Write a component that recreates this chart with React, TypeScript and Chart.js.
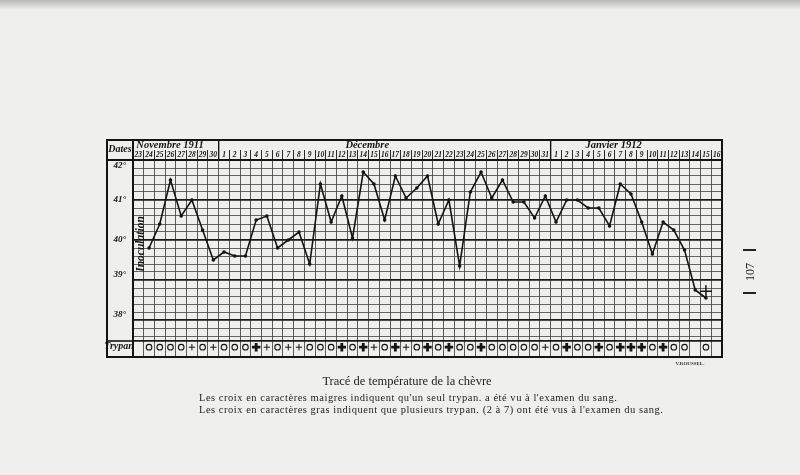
import React, { useEffect, useRef } from "react";
import { Chart, registerables } from "chart.js";

Chart.register(...registerables);

// ---- data ----
const novDays = ["23", "24", "25", "26", "27", "28", "29", "30"];
const decDays = ["1", "2", "3", "4", "5", "6", "7", "8", "9", "10", "11", "12", "13", "14", "15", "16", "17", "18", "19", "20", "21", "22", "23", "24", "25", "26", "27", "28", "29", "30", "31"];
const janDays = ["1", "2", "3", "4", "5", "6", "7", "8", "9", "10", "11", "12", "13", "14", "15", "16"];

const novTemps: (number | null)[] = [null, 39.8, 40.4, 41.5, 40.6, 41.0, 40.25, 39.5];
const decTemps: (number | null)[] = [39.7, 39.6, 39.6, 40.5, 40.6, 39.8, 40.0, 40.2, 39.4, 41.4, 40.45, 41.1, 40.05, 41.7, 41.4, 40.5, 41.6, 41.05, 41.3, 41.6, 40.4, 41.0, 39.35, 41.2, 41.7, 41.05, 41.5, 40.95, 40.95, 40.55, 41.1];
const janTemps: (number | null)[] = [40.45, 41.0, 41.0, 40.8, 40.8, 40.35, 41.4, 41.15, 40.45, 39.65, 40.45, 40.25, 39.75, 38.75, 38.55, null];

// o = circle (none seen), + = thin cross (one trypan), B = bold cross (several)
const novTrypan = ["", "o", "o", "o", "o", "+", "o", "+"];
const decTrypan = ["o", "o", "o", "B", "+", "o", "+", "+", "o", "o", "o", "B", "o", "B", "+", "o", "B", "+", "o", "B", "o", "B", "o", "o", "B", "o", "o", "o", "o", "o", "+"];
const janTrypan = ["o", "B", "o", "o", "B", "o", "B", "B", "B", "o", "B", "o", "o", "", "o", ""];

// death mark (Jan 15)
const deathIndex = 53;
const deathValue = 38.72;

const months = ["Novembre 1911", "Décembre", "Janvier 1912"];
const degreeTicks = [38, 39, 40, 41, 42];

const yMin = 37.075;
const yMax = 42;
const trypanLine = 37.475;
const trypanRow = 37.32;

const dayLabels = [...novDays, ...decDays, ...janDays];
const temps = [...novTemps, ...decTemps, ...janTemps];
const trypanCodes = [...novTrypan, ...decTrypan, ...janTrypan];

const SERIF = '"Liberation Serif", "DejaVu Serif", serif';
const INK = "#141414";

const framePlugin = {
  id: "frame",
  afterDraw(chart: any) {
    const { ctx, chartArea: ca, scales } = chart;
    const x = scales.x;
    const y = scales.y;
    const L = 107;
    const T = 140;
    const R = ca.right;
    const B = ca.bottom;
    ctx.save();
    ctx.strokeStyle = INK;
    ctx.fillStyle = INK;
    const line = (x1: number, y1: number, x2: number, y2: number, w: number) => {
      ctx.lineWidth = w;
      ctx.beginPath();
      ctx.moveTo(x1, y1);
      ctx.lineTo(x2, y2);
      ctx.stroke();
    };
    // outer frame
    ctx.lineWidth = 2;
    ctx.strokeRect(L, T, R - L, B - T);
    // left column separator & header bottom
    line(ca.left, T, ca.left, B, 2);
    line(L, ca.top, R, ca.top, 2);
    // trypan row top across the left column
    const ty = y.getPixelForValue(trypanLine);
    line(L, ty, ca.left, ty, 1.6);
    // month boundaries in header
    const b1 = (x.getPixelForValue(novDays.length - 1) + x.getPixelForValue(novDays.length)) / 2;
    const b2 =
      (x.getPixelForValue(novDays.length + decDays.length - 1) +
        x.getPixelForValue(novDays.length + decDays.length)) / 2;
    line(b1, T, b1, ca.top, 1.4);
    line(b2, T, b2, ca.top, 1.4);

    // month labels
    ctx.font = `italic bold 10.5px ${SERIF}`;
    ctx.textBaseline = "middle";
    ctx.textAlign = "left";
    ctx.fillText(months[0], x.getPixelForValue(0) - 2, 145.5);
    ctx.textAlign = "center";
    ctx.fillText(months[1], x.getPixelForValue(novDays.length + 13) + 4, 145.5);
    ctx.fillText(months[2], x.getPixelForValue(novDays.length + decDays.length + 5) + 4, 145.5);

    // left column labels
    ctx.font = `italic bold 10px ${SERIF}`;
    ctx.fillText("Dates", (L + ca.left) / 2, 149.5);
    ctx.fillText("Trypan", (L + ca.left) / 2 - 1, (ty + B) / 2 - 3);

    // Inoculation (vertical)
    ctx.save();
    ctx.translate(x.getPixelForValue(0) + 2.5, 244);
    ctx.rotate(-Math.PI / 2);
    ctx.font = `italic bold 11.5px ${SERIF}`;
    ctx.textAlign = "center";
    ctx.textBaseline = "middle";
    ctx.fillText("Inoculation", 0, 0);
    ctx.restore();

    // engraver signature
    ctx.font = `bold 5px ${SERIF}`;
    ctx.textAlign = "center";
    ctx.fillStyle = "#333";
    ctx.fillText("V.ROUSSEL.", 690, 364);
    ctx.restore();
  },
};

export default function App() {
  const canvasRef = useRef<HTMLCanvasElement | null>(null);

  useEffect(() => {
    if (!canvasRef.current) return;
    const trypanData = trypanCodes.map((c) => (c ? trypanRow : null));
    const deathData = dayLabels.map((_, i) => (i === deathIndex ? deathValue : null));

    const chart = new Chart(canvasRef.current, {
      type: "line",
      data: {
        labels: dayLabels,
        datasets: [
          {
            label: "Température",
            data: temps,
            borderColor: INK,
            backgroundColor: INK,
            borderWidth: 1.6,
            pointRadius: 1.8,
            pointBackgroundColor: INK,
            pointBorderWidth: 0,
            tension: 0,
            spanGaps: false,
          },
          {
            label: "Trypan",
            data: trypanData,
            showLine: false,
            borderColor: INK,
            backgroundColor: "rgba(0,0,0,0)",
            pointStyle: trypanCodes.map((c) => (c === "o" ? "circle" : "cross")) as any,
            pointRadius: trypanCodes.map((c) => (c === "o" ? 2.8 : c === "B" ? 4.2 : 3.2)),
            pointBorderWidth: trypanCodes.map((c) => (c === "o" ? 1.1 : c === "B" ? 2.8 : 1)),
            pointBorderColor: INK,
            pointBackgroundColor: "rgba(0,0,0,0)",
          },
          {
            label: "Mort",
            data: deathData,
            showLine: false,
            pointStyle: "cross",
            pointRadius: 6,
            pointBorderWidth: 1.5,
            pointBorderColor: INK,
          },
        ],
      },
      options: {
        responsive: false,
        animation: false,
        layout: { padding: { left: 107, top: 140, right: 78, bottom: 118 } },
        plugins: {
          legend: { display: false },
          tooltip: { enabled: false },
          title: { display: false },
        },
        scales: {
          x: {
            type: "category",
            position: "top",
            offset: true,
            afterFit: (s: any) => {
              s.height = 20;
            },
            grid: {
              offset: true,
              color: "#4a4a4a",
              lineWidth: 0.9,
              drawTicks: true,
              tickLength: 10,
              tickColor: "#2a2a2a",
              tickWidth: 1,
            },
            border: { display: true, color: INK, width: 2 },
            ticks: {
              autoSkip: false,
              maxRotation: 0,
              minRotation: 0,
              padding: -10,
              color: INK,
              font: { family: SERIF, size: 7.5, style: "italic", weight: "bold" },
            },
          },
          y: {
            type: "linear",
            min: yMin,
            max: yMax,
            afterFit: (s: any) => {
              s.width = 26;
            },
            afterBuildTicks: (s: any) => {
              const ticks: { value: number }[] = [];
              for (let k = 0; k <= 22; k++) ticks.push({ value: Math.round((42 - k * 0.2) * 100) / 100 });
              ticks.push({ value: trypanLine });
              s.ticks = ticks;
            },
            grid: {
              drawTicks: false,
              color: (c: any) =>
                degreeTicks.includes(c.tick?.value) || c.tick?.value === trypanLine ? "#1a1a1a" : "#4a4a4a",
              lineWidth: (c: any) =>
                degreeTicks.includes(c.tick?.value) || c.tick?.value === trypanLine ? 1.8 : 0.85,
            },
            border: { display: true, color: INK, width: 2 },
            ticks: {
              autoSkip: false,
              padding: 7,
              color: INK,
              font: { family: SERIF, size: 9, style: "italic", weight: "bold" },
              callback: (v: any) => {
                const n = Number(v);
                if (!degreeTicks.includes(n)) return "";
                const t = `${n}°`;
                if (n === 42) return ["", t];
                if (n === 39 || n === 38) return [t, ""];
                return t;
              },
            },
          },
        },
      },
      plugins: [framePlugin],
    });
    return () => chart.destroy();
  }, []);

  const capStyle: React.CSSProperties = {
    position: "absolute",
    fontFamily: SERIF,
    color: "#1e1e1e",
    whiteSpace: "nowrap",
    margin: 0,
    lineHeight: 1,
  };

  return (
    <div
      style={{
        position: "fixed",
        left: 0,
        top: 0,
        width: 800,
        height: 475,
        background: "#efefed",
        overflow: "hidden",
      }}
    >
      <div
        style={{
          position: "absolute",
          left: 0,
          top: 0,
          width: 800,
          height: 9,
          background: "linear-gradient(#b9b9b9, #d6d6d6 60%, #ececea)",
        }}
      />
      <canvas ref={canvasRef} width={800} height={475} style={{ position: "absolute", left: 0, top: 0 }} />
      <div style={{ ...capStyle, left: 0, width: 814, top: 375, fontSize: 12.5, textAlign: "center" }}>
        Tracé de température de la chèvre
      </div>
      <div style={{ ...capStyle, left: 199, top: 393, fontSize: 10.5, letterSpacing: 0.52 }}>
        Les croix en caractères maigres indiquent qu'un seul trypan. a été vu à l'examen du sang.
      </div>
      <div style={{ ...capStyle, left: 199, top: 405, fontSize: 10.5, letterSpacing: 0.52 }}>
        Les croix en caractères gras indiquent que plusieurs trypan. (2 à 7) ont été vus à l'examen du sang.
      </div>
      <div
        style={{
          ...capStyle,
          left: 750,
          top: 272,
          fontSize: 12,
          transform: "translate(-50%, -50%) rotate(-90deg)",
        }}
      >
        107
      </div>
      <div style={{ position: "absolute", left: 743, top: 249, width: 13, height: 1.5, background: "#222" }} />
      <div style={{ position: "absolute", left: 743, top: 292, width: 13, height: 1.5, background: "#222" }} />
    </div>
  );
}
